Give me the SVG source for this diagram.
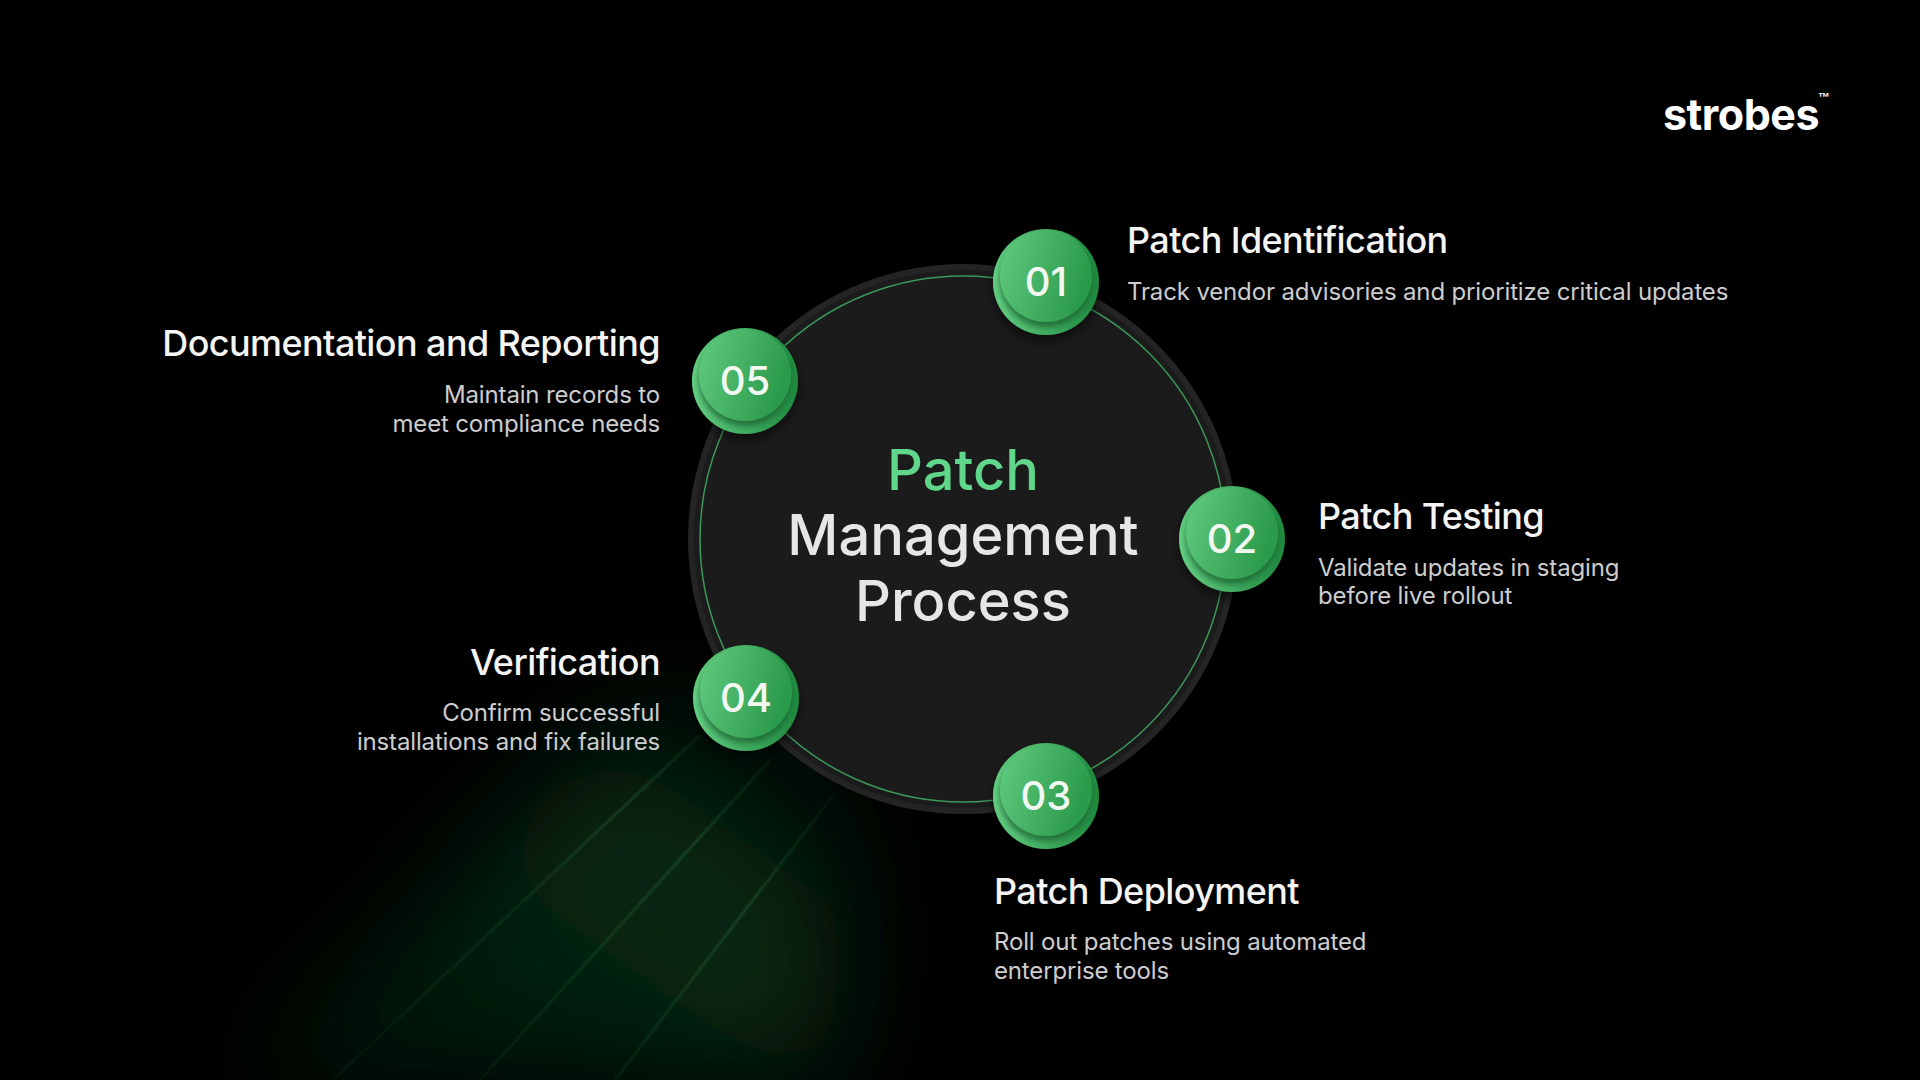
<svg xmlns="http://www.w3.org/2000/svg" width="1920" height="1080" viewBox="0 0 1920 1080">
  <defs>
    <style>
      .title { font-family: Inter, "Liberation Sans", sans-serif; font-weight: 500; font-size: 36px; fill: #f4f4f4; letter-spacing: -0.6px; }
      .desc { font-family: Inter, "Liberation Sans", sans-serif; font-weight: 400; font-size: 24px; fill: #cdcdcd; letter-spacing: -0.15px; }
      .num { font-family: Inter, "Liberation Sans", sans-serif; font-weight: 500; font-size: 40px; fill: #f2f7f2; text-anchor: middle; }
      .center { font-family: Inter, "Liberation Sans", sans-serif; font-weight: 500; font-size: 56px; text-anchor: middle; }
      .end { text-anchor: end; }
    </style>
    <linearGradient id="gOuter" x1="0" y1="0" x2="1" y2="0">
      <stop offset="0" stop-color="#66d084"/>
      <stop offset="1" stop-color="#1f8a3e"/>
    </linearGradient>
    <linearGradient id="gInner" x1="0" y1="0" x2="1" y2="0.3">
      <stop offset="0" stop-color="#62cc80"/>
      <stop offset="1" stop-color="#2b9a4b"/>
    </linearGradient>
    <filter id="innerShade" x="-30%" y="-30%" width="160%" height="170%">
      <feDropShadow dx="0" dy="5" stdDeviation="3" flood-color="#16612e" flood-opacity="0.8"/>
    </filter>
    <filter id="nodeShadow" x="-40%" y="-40%" width="180%" height="190%">
      <feDropShadow dx="0" dy="6" stdDeviation="6" flood-color="#000" flood-opacity="0.55"/>
    </filter>
    <filter id="blurBig" x="-50%" y="-50%" width="200%" height="200%">
      <feGaussianBlur stdDeviation="55"/>
    </filter>
    <filter id="blurSmall" x="-20%" y="-20%" width="140%" height="140%">
      <feGaussianBlur stdDeviation="1.2"/>
    </filter>
    <linearGradient id="glowFade" gradientUnits="userSpaceOnUse" x1="760" y1="690" x2="480" y2="1080">
      <stop offset="0" stop-color="#12602c" stop-opacity="0"/>
      <stop offset="0.4" stop-color="#12602c" stop-opacity="0.45"/>
      <stop offset="1" stop-color="#0e4d22" stop-opacity="0.3"/>
    </linearGradient>
    <linearGradient id="lineFade" gradientUnits="userSpaceOnUse" x1="760" y1="700" x2="450" y2="1080">
      <stop offset="0" stop-color="#3fb765" stop-opacity="0.05"/>
      <stop offset="0.3" stop-color="#3fb765" stop-opacity="0.35"/>
      <stop offset="1" stop-color="#3fb765" stop-opacity="0.12"/>
    </linearGradient>
  </defs>

  <rect x="0" y="0" width="1920" height="1080" fill="#000"/>

  <!-- background glow streaks -->
  <g id="glow">
    <polygon points="670,680 860,750 830,1080 240,1080" fill="url(#glowFade)" filter="url(#blurBig)"/>
    <g filter="url(#blurSmall)" stroke="url(#lineFade)" stroke-width="1.6" fill="none">
      <line x1="700" y1="735" x2="333" y2="1080"/>
      <line x1="770" y1="760" x2="480" y2="1080"/>
      <line x1="835" y1="793" x2="615" y2="1080"/>
    </g>
  </g>

  <!-- logo -->
  <g id="logo">
    <text x="1663" y="130" font-family="Inter, 'Liberation Sans', sans-serif" font-weight="700" font-size="43" fill="#ffffff" letter-spacing="-0.5">strobes</text>
    <text x="1818" y="101" font-family="'Liberation Sans', sans-serif" font-weight="700" font-size="12" fill="#ffffff">™</text>
  </g>

  <!-- central disc -->
  <g id="hub">
    <circle cx="963" cy="539" r="272" fill="#1b1b1b" stroke="#242424" stroke-width="6"/>
    <text class="center" x="963" y="490" fill="#5fd68a">Patch</text>
    <text class="center" x="963" y="555" fill="#e6e6e6">Management</text>
    <text class="center" x="963" y="621" fill="#e6e6e6">Process</text>
  </g>

  <!-- connectors: ring joining the steps -->
  <g id="connectors">
    <circle cx="963" cy="539" r="263" fill="none" stroke="#3fae63" stroke-width="1.5" stroke-opacity="0.85"/>
  </g>

  <!-- nodes -->
  <g id="node-01">
    <g transform="translate(1046,282)">
      <circle r="53" fill="url(#gOuter)" filter="url(#nodeShadow)"/>
      <circle cy="-6" r="46" fill="url(#gInner)" filter="url(#innerShade)"/>
      <text class="num" y="14">01</text>
    </g>
    <text class="title" x="1127" y="253">Patch Identification</text>
    <text class="desc" x="1127" y="300">Track vendor advisories and prioritize critical updates</text>
  </g>

  <g id="node-02">
    <g transform="translate(1232,539)">
      <circle r="53" fill="url(#gOuter)" filter="url(#nodeShadow)"/>
      <circle cy="-6" r="46" fill="url(#gInner)" filter="url(#innerShade)"/>
      <text class="num" y="14">02</text>
    </g>
    <text class="title" x="1318" y="529">Patch Testing</text>
    <text class="desc" x="1318" y="576">Validate updates in staging</text>
    <text class="desc" x="1318" y="604">before live rollout</text>
  </g>

  <g id="node-03">
    <g transform="translate(1046,796)">
      <circle r="53" fill="url(#gOuter)" filter="url(#nodeShadow)"/>
      <circle cy="-6" r="46" fill="url(#gInner)" filter="url(#innerShade)"/>
      <text class="num" y="14">03</text>
    </g>
    <text class="title" x="994" y="904">Patch Deployment</text>
    <text class="desc" x="994" y="950">Roll out patches using automated</text>
    <text class="desc" x="994" y="979">enterprise tools</text>
  </g>

  <g id="node-04">
    <g transform="translate(746,698)">
      <circle r="53" fill="url(#gOuter)" filter="url(#nodeShadow)"/>
      <circle cy="-6" r="46" fill="url(#gInner)" filter="url(#innerShade)"/>
      <text class="num" y="14">04</text>
    </g>
    <text class="title end" x="660" y="675">Verification</text>
    <text class="desc end" x="660" y="721">Confirm successful</text>
    <text class="desc end" x="660" y="750">installations and fix failures</text>
  </g>

  <g id="node-05">
    <g transform="translate(745,381)">
      <circle r="53" fill="url(#gOuter)" filter="url(#nodeShadow)"/>
      <circle cy="-6" r="46" fill="url(#gInner)" filter="url(#innerShade)"/>
      <text class="num" y="14">05</text>
    </g>
    <text class="title end" x="660" y="356">Documentation and Reporting</text>
    <text class="desc end" x="660" y="403">Maintain records to</text>
    <text class="desc end" x="660" y="432">meet compliance needs</text>
  </g>
</svg>
